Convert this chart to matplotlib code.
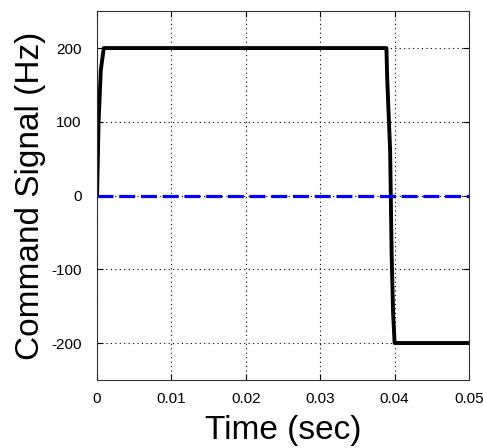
import matplotlib
matplotlib.use("Agg")
import matplotlib.pyplot as plt

# command signal
t = [0, 0.0002, 0.0005, 0.0009, 0.0389, 0.0390, 0.0394, 0.0396, 0.0398, 0.0400, 0.05]
cmd = [0, 100, 170, 200, 200, 160, 60, -80, -160, -200, -200]
t_ref = [0, 0.05]
ref = [0, 0]

xticks = [0, 0.01, 0.02, 0.03, 0.04, 0.05]
xticklabels = ["0", "0.01", "0.02", "0.03", "0.04", "0.05"]
yticks = [-200, -100, 0, 100, 200]

plt.rcParams['font.family'] = ['Liberation Sans', 'DejaVu Sans']
plt.rcParams['axes.unicode_minus'] = False

fig = plt.figure(figsize=(4.83, 4.48), dpi=100)
ax = fig.add_axes([0.201, 0.152, 0.77, 0.823])

ax.plot(t, cmd, color='black', linewidth=2.8)
ax.plot(t_ref, ref, color='blue', linewidth=2.3, linestyle=(0, (5, 1.8)))

ax.set_xlim(0, 0.05)
ax.set_ylim(-250, 250)
ax.set_xticks(xticks)
ax.set_xticklabels(xticklabels)
ax.set_yticks(yticks)
ax.tick_params(direction='in', length=4, labelsize=11, top=True, right=True)
ax.tick_params(axis='x', pad=9)
ax.tick_params(axis='y', pad=11)
ax.grid(True, linestyle=(0, (1, 3)), color='black', linewidth=0.8)
for s in ax.spines.values():
    s.set_color('#333333')

ax.set_xlabel("Time (sec)", fontsize=24, labelpad=6)
ax.set_ylabel("Command Signal (Hz)", fontsize=24, labelpad=4)

fig.savefig("out.png", dpi=100)
